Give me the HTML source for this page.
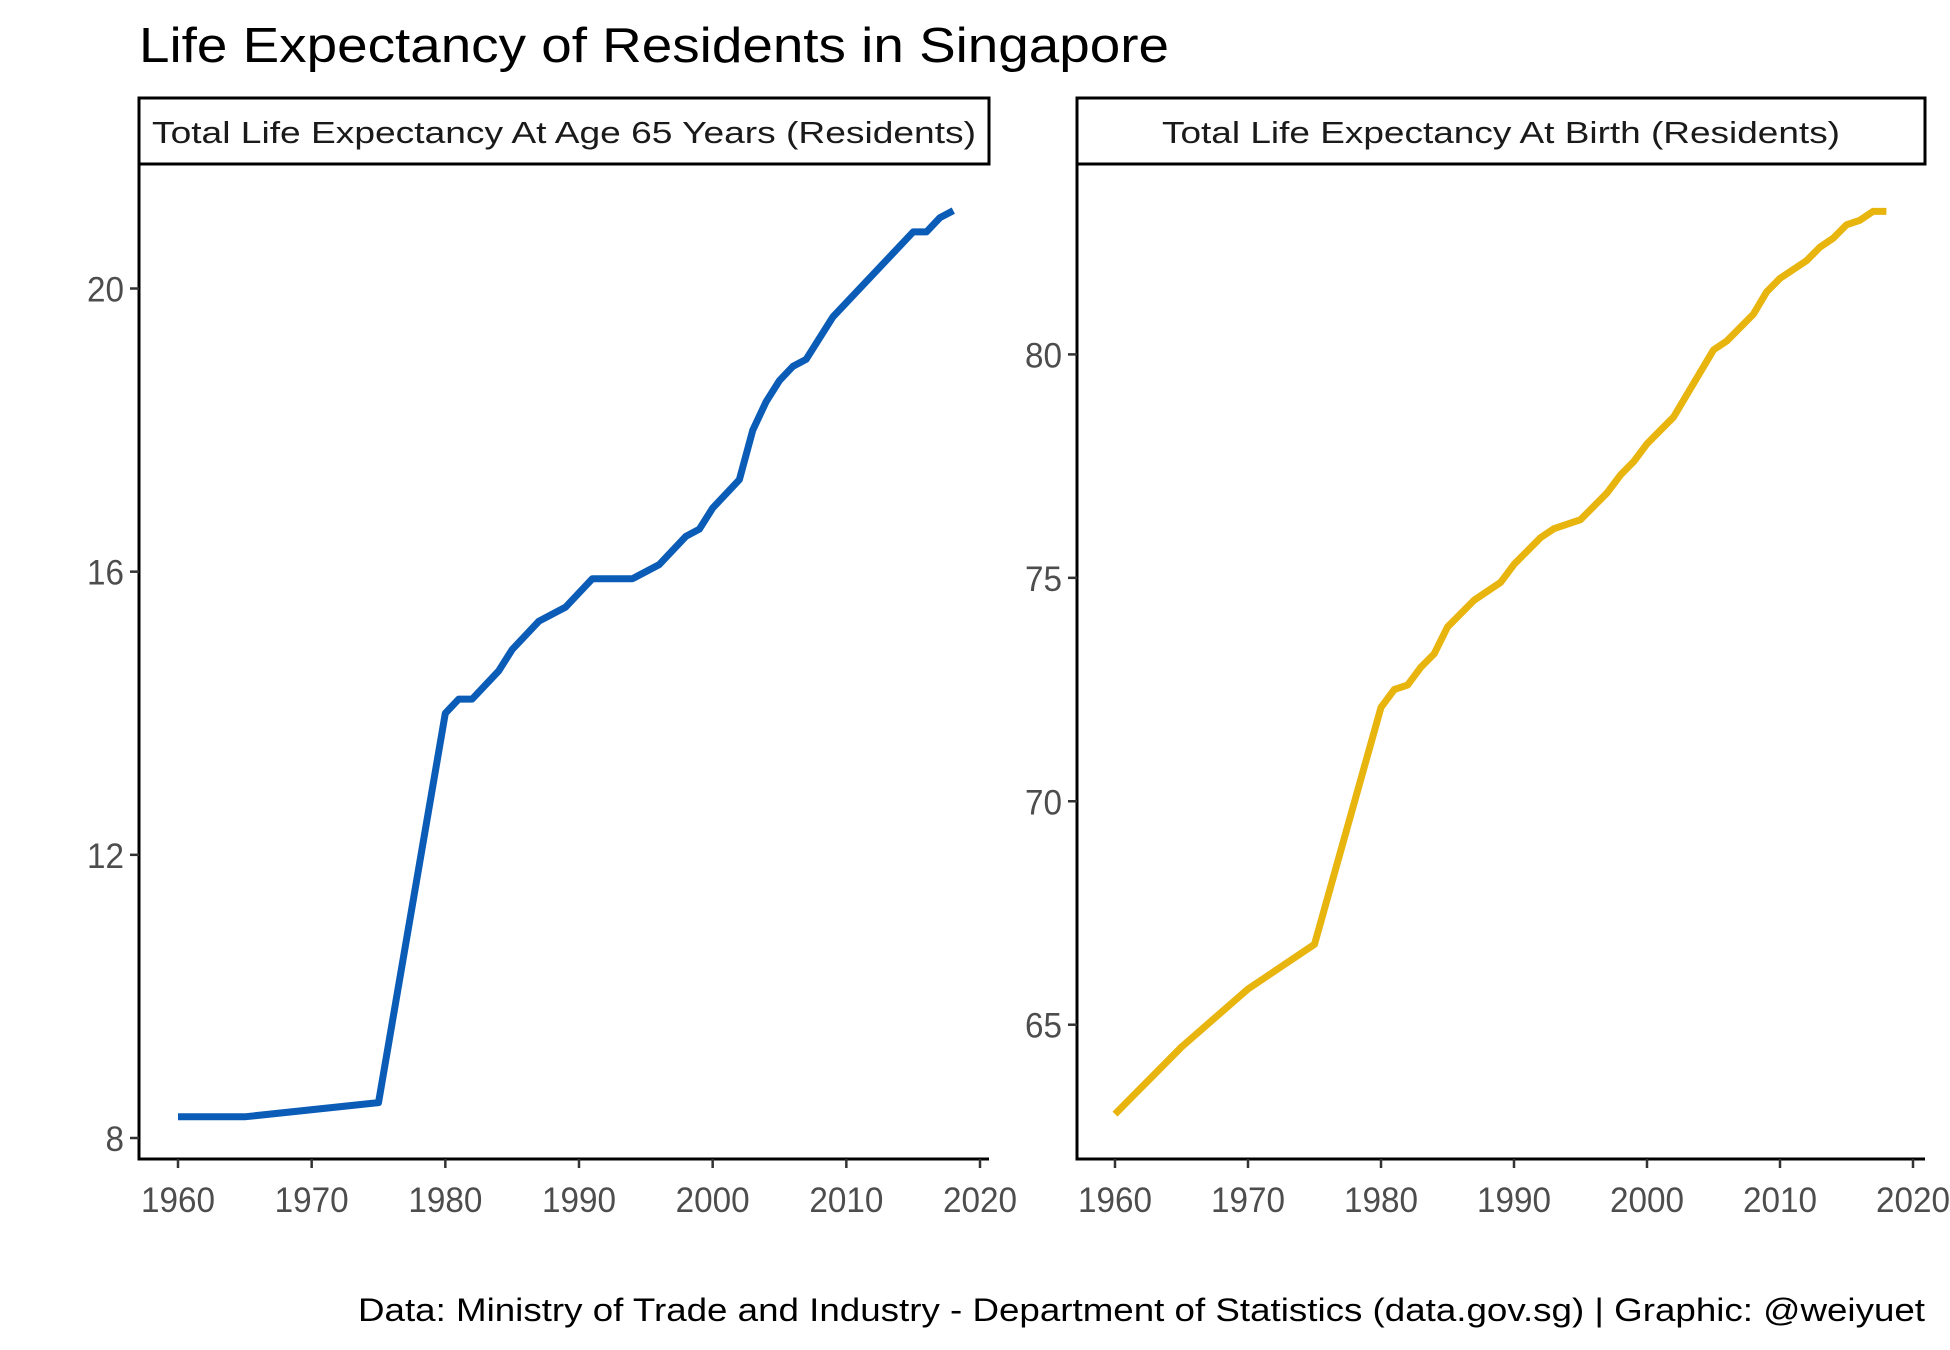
<!DOCTYPE html>
<html><head><meta charset="utf-8"><style>
html,body{margin:0;padding:0;background:#fff;}
svg{display:block;font-family:"Liberation Sans",Arial,sans-serif;}
</style></head><body>
<svg id="chart" width="1950" height="1350" viewBox="0 0 1950 1350">
<text x="139" y="62" font-size="49" fill="#000" textLength="1030" lengthAdjust="spacingAndGlyphs">Life Expectancy of Residents in Singapore</text>
<text x="1925" y="1321" font-size="32" fill="#000" text-anchor="end" textLength="1567" lengthAdjust="spacingAndGlyphs">Data: Ministry of Trade and Industry - Department of Statistics (data.gov.sg) | Graphic: @weiyuet</text>
<g id="left"></g>
<g id="right"></g>
</svg>
<script>
const years65 = [1960,1965,1975,1980,1981,1982,1984,1985,1987,1989,1990,1991,1994,1996,1998,1999,2000,2002,2003,2004,2005,2006,2007,2009,2015,2016,2017,2018];
const values65 = [8.3,8.3,8.5,14.0,14.2,14.2,14.6,14.9,15.3,15.5,15.7,15.9,15.9,16.1,16.5,16.6,16.9,17.3,18.0,18.4,18.7,18.9,19.0,19.6,20.8,20.8,21.0,21.1];
const yearsBirth = [1960,1965,1970,1975,1980,1981,1982,1983,1984,1985,1987,1989,1990,1992,1993,1995,1997,1998,1999,2000,2002,2005,2006,2008,2009,2010,2012,2013,2014,2015,2016,2017,2018];
const valuesBirth = [63.0,64.5,65.8,66.8,72.1,72.5,72.6,73.0,73.3,73.9,74.5,74.9,75.3,75.9,76.1,76.3,76.9,77.3,77.6,78.0,78.6,80.1,80.3,80.9,81.4,81.7,82.1,82.4,82.6,82.9,83.0,83.2,83.2];
const xTicks = [1960,1970,1980,1990,2000,2010,2020];
const yTicks65 = [8,12,16,20];
const yTicksBirth = [65,70,75,80];
const strip65 = "Total Life Expectancy At Age 65 Years (Residents)";
const stripBirth = "Total Life Expectancy At Birth (Residents)";

const NS = "http://www.w3.org/2000/svg";
function mk(tag, attrs, parent){const e=document.createElementNS(NS,tag);for(const k in attrs)e.setAttribute(k,attrs[k]);parent.appendChild(e);return e;}

function panel(g, cfg){
  const sx = v => cfg.x0 + (v-1960)/60*(cfg.x1-cfg.x0);
  const sy = v => cfg.yA + (v-cfg.vA)/(cfg.vB-cfg.vA)*(cfg.yB-cfg.yA);
  const strip = mk('rect',{x:cfg.L,y:98,width:cfg.R-cfg.L,height:66,fill:'#fff',stroke:'#000','stroke-width':3},g);
  
  
  const st = mk('text',{x:(cfg.L+cfg.R)/2,y:143,'font-size':31,'text-anchor':'middle',fill:'#1a1a1a',textLength:cfg.stripLen,lengthAdjust:'spacingAndGlyphs'},g);
  st.textContent = cfg.strip;
  
  
  const ax = mk('path',{d:`M${cfg.L},164 V1159 H${cfg.R}`,fill:'none',stroke:'#000','stroke-width':3},g);
  
  
  xTicks.forEach(t=>{
    const x=sx(t);
    const tk=mk('line',{x1:x,x2:x,y1:1159,y2:1168,stroke:'#333','stroke-width':2.5},g);
    
    
    const lb=mk('text',{x:x,y:1212,'font-size':35,'text-anchor':'middle',fill:'#4d4d4d',textLength:74,lengthAdjust:'spacingAndGlyphs'},g);
    lb.textContent=t;
    
    
  });
  cfg.yTicks.forEach(t=>{
    const y=sy(t);
    const tk=mk('line',{x1:cfg.L-9,x2:cfg.L,y1:y,y2:y,stroke:'#333','stroke-width':2.5},g);
    
    
    const lb=mk('text',{x:cfg.L-15,y:y+13,'font-size':35,'text-anchor':'end',fill:'#4d4d4d',textLength:String(t).length*18.5,lengthAdjust:'spacingAndGlyphs'},g);
    lb.textContent=t;
    
    
  });
  const d = cfg.xs.map((v,i)=>(i?'L':'M')+sx(v).toFixed(1)+','+sy(cfg.ys[i]).toFixed(1)).join(' ');
  const ln = mk('path',{d:d,fill:'none',stroke:cfg.color,'stroke-width':7,'stroke-linejoin':'round'},g);
  
  
}
panel(document.getElementById('left'),{L:139,R:989,x0:178,x1:980,yA:288.5,vA:20,yB:1138,vB:8,yTicks:yTicks65,xs:years65,ys:values65,color:'#0b5cb7',strip:strip65,stripLen:824});
panel(document.getElementById('right'),{L:1077,R:1925,x0:1115,x1:1913,yA:354.4,vA:80,yB:1024.7,vB:65,yTicks:yTicksBirth,xs:yearsBirth,ys:valuesBirth,color:'#e8b40e',strip:stripBirth,stripLen:678});
</script>
</body></html>
